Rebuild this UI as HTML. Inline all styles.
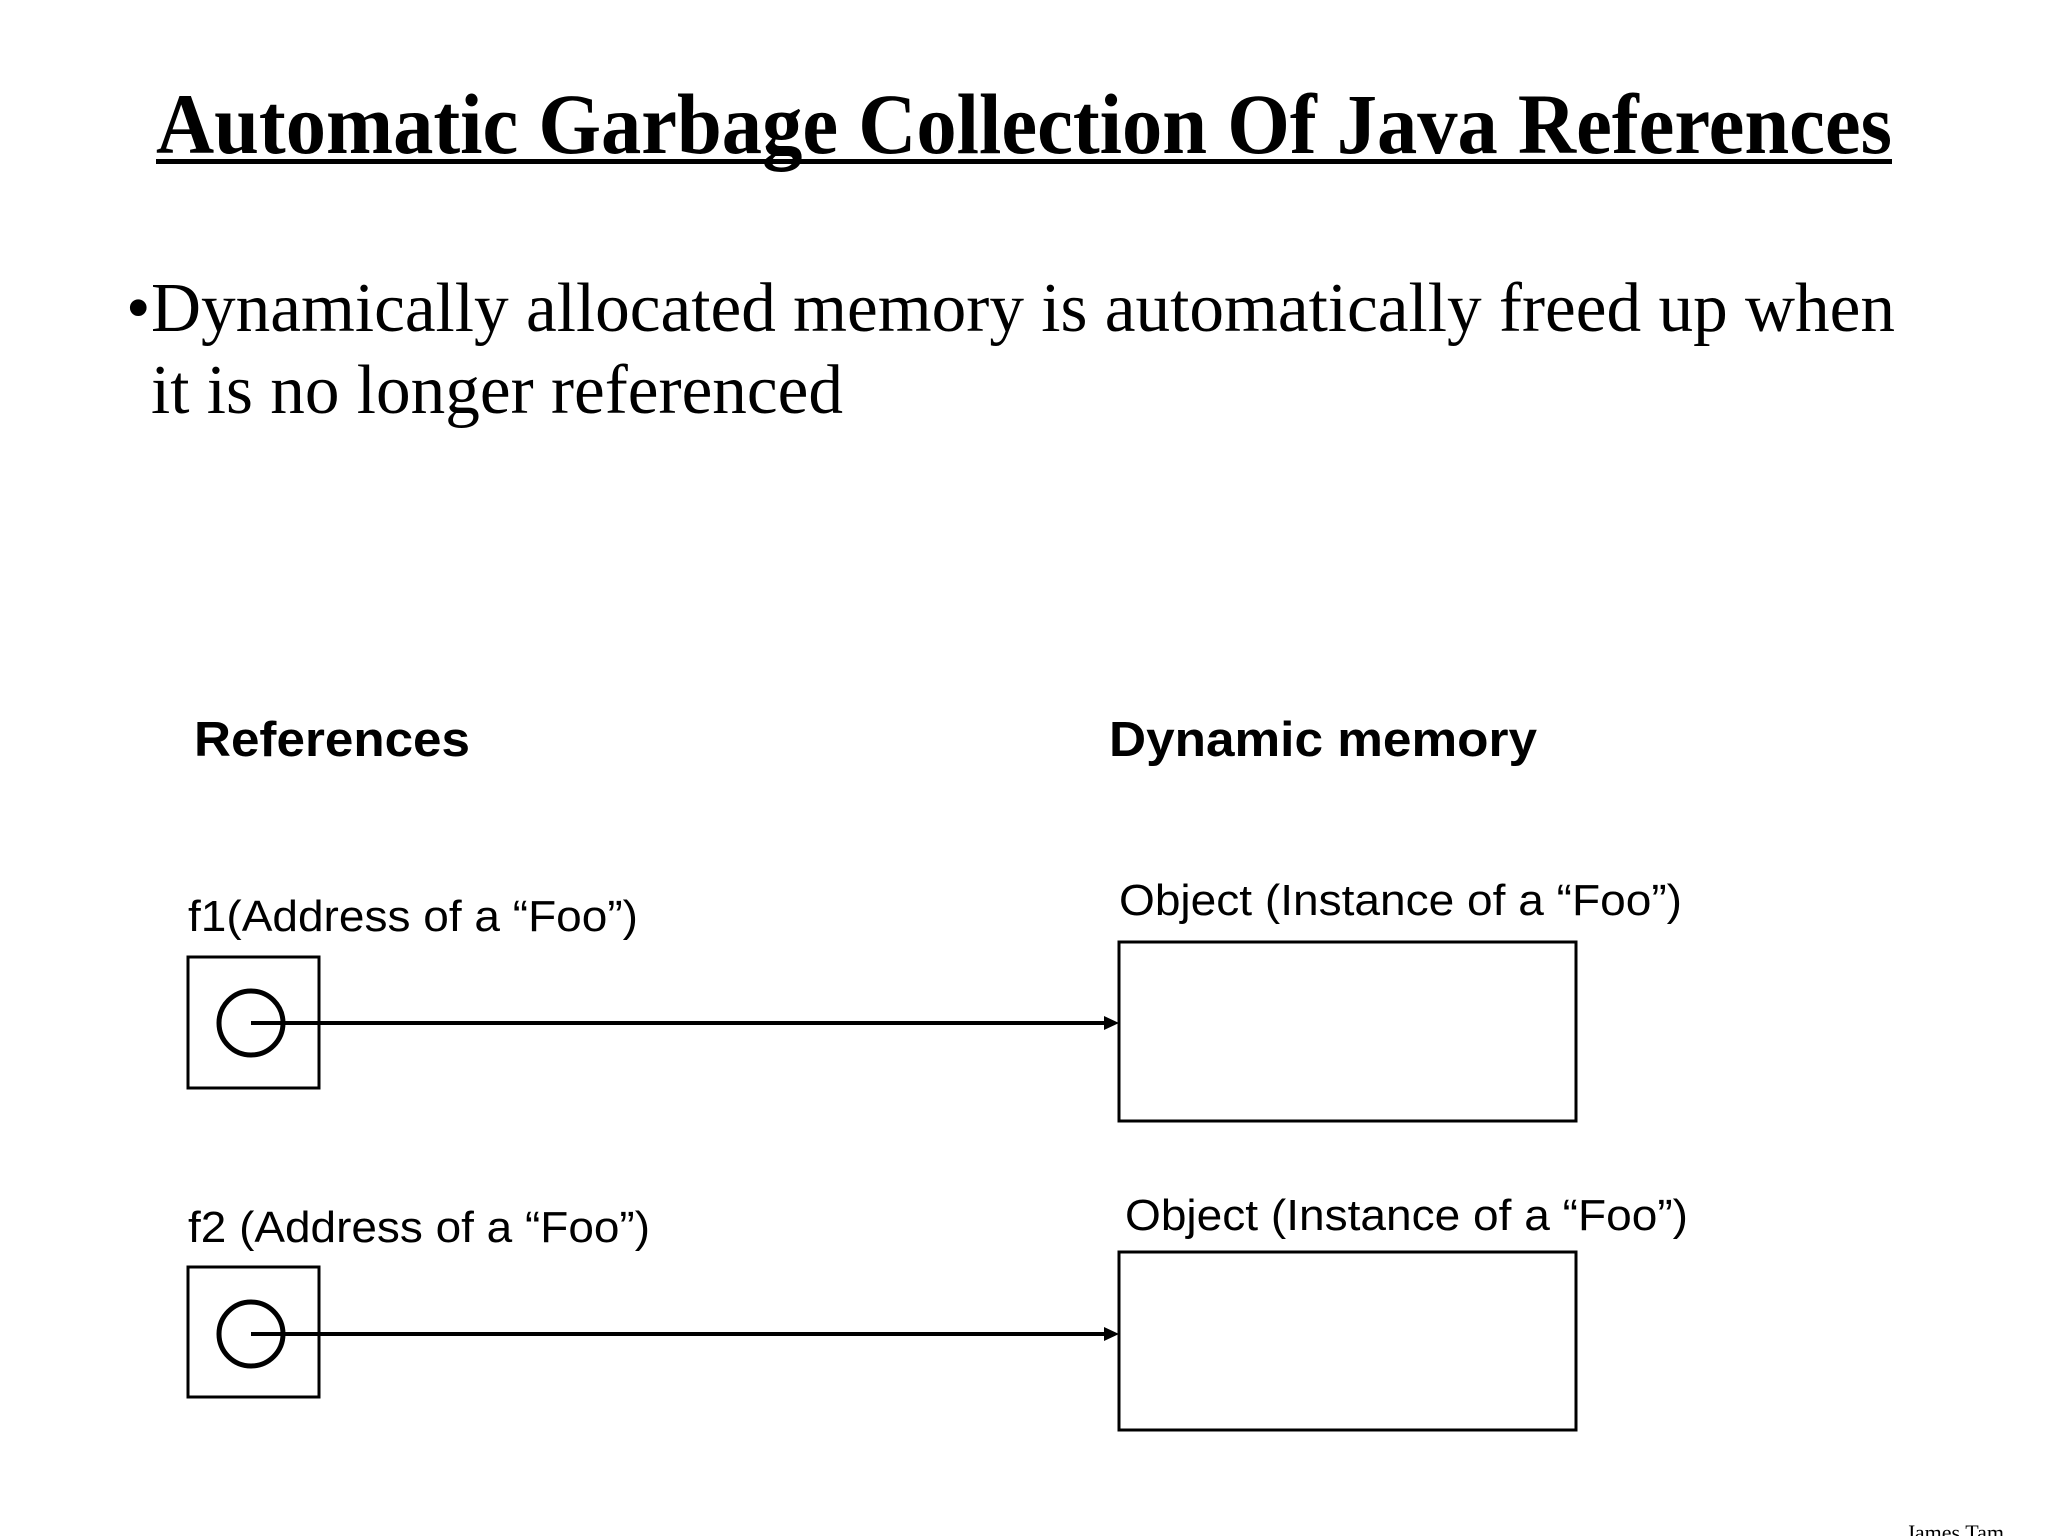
<!DOCTYPE html>
<html><head><meta charset="utf-8"><style>html,body{margin:0;padding:0;background:#fff}svg{display:block}</style></head>
<body>
<svg width="2048" height="1536" viewBox="0 0 2048 1536" xmlns="http://www.w3.org/2000/svg">
<rect width="2048" height="1536" fill="#fff"/>
<g font-family="Liberation Serif, serif" fill="#000">
<text x="156" y="153" font-size="86" font-weight="bold" textLength="1736" lengthAdjust="spacingAndGlyphs">Automatic Garbage Collection Of Java References</text>
<rect x="156" y="159" width="1736" height="5"/>
<text x="126" y="331" font-size="70">•</text>
<text x="151" y="331" font-size="70" textLength="1744" lengthAdjust="spacingAndGlyphs">Dynamically allocated memory is automatically freed up when</text>
<text x="151" y="413" font-size="70" textLength="692" lengthAdjust="spacingAndGlyphs">it is no longer referenced</text>
<text x="2004" y="1540" font-size="22" text-anchor="end">James Tam</text>
</g>
<g font-family="Liberation Sans, sans-serif" fill="#000">
<text x="194" y="756" font-size="49" font-weight="bold" textLength="276" lengthAdjust="spacingAndGlyphs">References</text>
<text x="1109" y="756" font-size="49" font-weight="bold" textLength="428" lengthAdjust="spacingAndGlyphs">Dynamic memory</text>
<text x="188" y="931" font-size="44" textLength="450" lengthAdjust="spacingAndGlyphs">f1(Address of a “Foo”)</text>
<text x="1119" y="915" font-size="44" textLength="563" lengthAdjust="spacingAndGlyphs">Object (Instance of a “Foo”)</text>
<text x="188" y="1242" font-size="44" textLength="462" lengthAdjust="spacingAndGlyphs">f2 (Address of a “Foo”)</text>
<text x="1125" y="1230" font-size="44" textLength="563" lengthAdjust="spacingAndGlyphs">Object (Instance of a “Foo”)</text>
</g>
<g fill="none" stroke="#000">
<rect x="188" y="957" width="131" height="131" stroke-width="3"/>
<circle cx="251" cy="1023" r="32" stroke-width="5"/>
<line x1="251" y1="1023" x2="1106" y2="1023" stroke-width="4"/>
<rect x="1119" y="942" width="457" height="179" stroke-width="3"/>
<rect x="188" y="1267" width="131" height="130" stroke-width="3"/>
<circle cx="251" cy="1334" r="32" stroke-width="5"/>
<line x1="251" y1="1334" x2="1106" y2="1334" stroke-width="4"/>
<rect x="1119" y="1252" width="457" height="178" stroke-width="3"/>
</g>
<polygon points="1104,1016 1119,1023 1104,1030" fill="#000"/>
<polygon points="1104,1327 1119,1334 1104,1341" fill="#000"/>
</svg>
</body></html>
